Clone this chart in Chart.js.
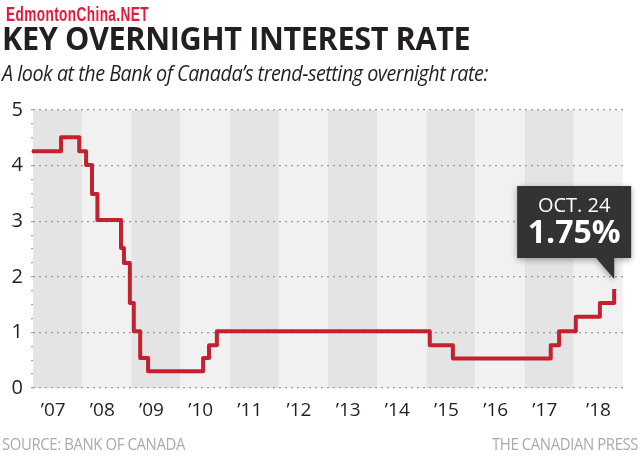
<!DOCTYPE html>
<html>
<head>
<meta charset="utf-8">
<script src="https://cdn.jsdelivr.net/npm/chart.js@4"></script>
<style>
body{margin:0;background:#fff;width:640px;height:460px;overflow:hidden;position:relative;}
canvas{position:absolute;left:0;top:0;}
.txt{position:absolute;white-space:nowrap;font-family:"Open Sans",sans-serif;transform-origin:left top;}
#mark{left:6px;top:3px;font:bold 20px "Liberation Sans",sans-serif;color:#e8173a;letter-spacing:.6px;transform:scaleX(.68);}
#title{left:2px;top:16px;font-size:32px;font-weight:700;color:#231f20;letter-spacing:-.4px;transform:scaleX(.957);}
#sub{left:2px;top:59px;font-size:21px;font-style:italic;color:#231f20;letter-spacing:-.5px;transform:scaleX(.94);}
#src{left:2px;top:433px;font-size:16px;color:#aaa;letter-spacing:-.4px;transform:scaleX(.93);}
#press{right:2px;top:433px;font-size:16px;color:#aaa;letter-spacing:-.4px;transform:scaleX(.93);transform-origin:right top;}
</style>
</head>
<body>
<canvas id="rateChart" width="640" height="460"></canvas>
<div class="txt" id="mark">EdmontonChina.NET</div>
<div class="txt" id="title">KEY OVERNIGHT INTEREST RATE</div>
<div class="txt" id="sub">A look at the Bank of Canada’s trend-setting overnight rate:</div>
<div class="txt" id="src">SOURCE: BANK OF CANADA</div>
<div class="txt" id="press">THE CANADIAN PRESS</div>
<script>
// dates where the rate changed (decimal years) and the rate from then on
var changeDates = [2006.98,2007.57,2007.94,2008.08,2008.2,2008.31,2008.79,2008.85,2008.97,2009.05,2009.18,2009.34,2010.46,2010.58,2010.74,2015.07,2015.54,2017.53,2017.7,2018.04,2018.53,2018.82];
var rates = [4.26,4.51,4.26,4.01,3.49,3.02,2.52,2.25,1.53,1.02,0.54,0.3,0.54,0.77,1.02,0.77,0.53,0.77,1.02,1.28,1.53,1.78];
var bandYears = [2007,2008,2009,2010,2011,2012,2013,2014,2015,2016,2017,2018];
var yearLabels = ["’07","’08","’09","’10","’11","’12","’13","’14","’15","’16","’17","’18"];
var labelYears = [2007.41,2008.41,2009.41,2010.41,2011.41,2012.41,2013.41,2014.41,2015.41,2016.41,2017.41,2018.5];
var calloutDate = 'OCT. 24';
var calloutRate = '1.75%';

var bandsPlugin = {
    id: 'bands',
    beforeDraw: function(chart){
        var c = chart.ctx, a = chart.chartArea, x = chart.scales.x;
        bandYears.forEach(function(yr, i){
            var x0 = x.getPixelForValue(yr), x1 = x.getPixelForValue(yr + 1);
            c.fillStyle = i % 2 == 0 ? '#e4e4e4' : '#f1f1f1';
            c.fillRect(x0, a.top, x1 - x0, a.bottom - a.top);
        });
    }
};

var calloutPlugin = {
    id: 'callout',
    afterDatasetsDraw: function(chart){
        var c = chart.ctx;
        var tipX = chart.scales.x.getPixelForValue(changeDates[changeDates.length - 1]);
        var tipY = chart.scales.y.getPixelForValue(rates[rates.length - 1]) - 10;
        var left = tipX - 97, right = tipX + 17, top = tipY - 93, bottom = tipY - 21;
        c.save();
        c.shadowColor = 'rgba(0,0,0,0.35)';
        c.shadowBlur = 6;
        c.shadowOffsetY = 2;
        c.fillStyle = '#333333';
        c.beginPath();
        c.moveTo(left, top);
        c.lineTo(right, top);
        c.lineTo(right, bottom);
        c.lineTo(tipX, bottom);
        c.lineTo(tipX, tipY);
        c.lineTo(tipX - 18, bottom);
        c.lineTo(left, bottom);
        c.closePath();
        c.fill();
        c.restore();
        c.save();
        c.fillStyle = '#fff';
        c.textAlign = 'center';
        c.textBaseline = 'middle';
        c.font = '500 20px "Open Sans"';
        c.fillText(calloutDate, (left + right) / 2, top + 20);
        c.font = 'bold 32px "Open Sans"';
        c.fillText(calloutRate, (left + right) / 2, top + 48);
        c.restore();
    }
};

new Chart(document.getElementById('rateChart'), {
    type: 'line',
    data: {
        datasets: [{
            data: changeDates.map(function(d, i){ return {x: d, y: rates[i]}; }),
            stepped: 'before',
            borderColor: '#c4212e',
            borderWidth: 4,
            borderJoinStyle: 'round',
            pointRadius: 0,
            clip: false
        }]
    },
    plugins: [bandsPlugin, calloutPlugin],
    options: {
        responsive: false,
        animation: false,
        layout: { padding: { top: 110, right: 17, left: 0, bottom: 0 } },
        plugins: { legend: { display: false }, tooltip: { enabled: false }, title: { display: false } },
        scales: {
            x: {
                type: 'linear',
                min: 2007,
                max: 2019,
                afterFit: function(s){ s.height = 72; },
                afterBuildTicks: function(s){ s.ticks = labelYears.map(function(v){ return {value: v}; }); },
                afterTickToLabelConversion: function(s){ s.ticks.forEach(function(t, i){ t.label = yearLabels[i]; }); },
                grid: { display: false },
                border: { display: false },
                ticks: { autoSkip: false, maxRotation: 0, padding: 3, color: '#231f20', font: { family: 'Open Sans', size: 19 } }
            },
            y: {
                min: 0,
                max: 5,
                afterFit: function(s){ s.width = 33; },
                grid: {
                    color: function(ctx){ return Number.isInteger(ctx.tick.value) ? '#9a9a9a' : 'rgba(0,0,0,0)'; },
                    tickColor: '#a8a8a8',
                    tickLength: 2,
                    lineWidth: 1.2,
                    tickBorderDash: [2, 3]
                },
                border: { display: false, dash: [2, 4] },
                ticks: {
                    stepSize: 0.25,
                    autoSkip: false,
                    padding: 8,
                    color: '#231f20',
                    font: { family: 'Open Sans', size: 20 },
                    callback: function(v){ return Number.isInteger(v) ? String(v) : ''; }
                }
            }
        }
    }
});
</script>
</body>
</html>
